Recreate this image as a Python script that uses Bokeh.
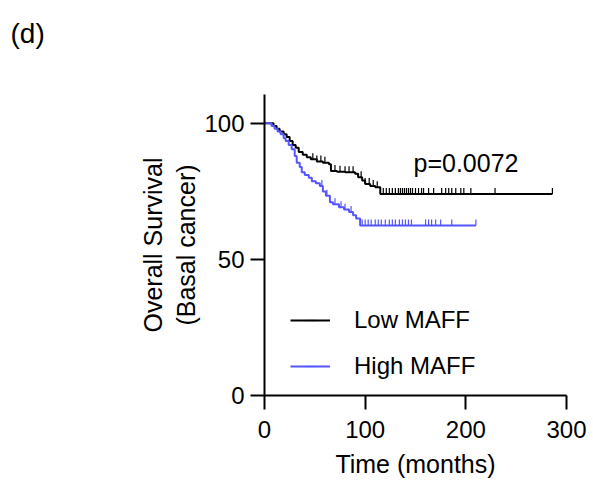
import numpy as np
from bokeh.plotting import figure
from bokeh.models import Range1d, Label, Legend, LegendItem, FixedTicker, Title
from bokeh.embed import file_html
from bokeh.resources import INLINE

# Kaplan-Meier step data (time in months, survival %)
low_t = [0, 9, 12, 15, 19, 22, 25, 28, 31, 34, 38, 42, 46, 52, 58, 64, 66, 72, 80, 90, 93, 97, 100, 105, 110, 115, 286]
low_s = [100, 99, 98, 97, 96, 95, 93.5, 92, 91, 89.5, 88.5, 87.5, 86.8, 86, 85.5, 85, 82.5, 82.2, 82, 81.5, 80.2, 79, 77.7, 77, 76.5, 74, 74]
high_t = [0, 7, 10, 13, 16, 19, 21, 24, 27, 30, 32, 35, 37, 40, 44, 47, 51, 55, 58, 61, 65, 68, 74, 79, 84, 88, 91, 95, 210]
high_s = [100, 99, 98, 97, 96, 94.5, 93.5, 92, 90.5, 88, 85.5, 84, 82, 81, 80, 78.7, 78, 77, 75, 73.4, 71, 70.3, 69.2, 68.3, 67.4, 66.2, 65, 62.5, 62.5]

# censoring times
low_cens = [48, 52, 56, 60, 70, 75, 80, 84, 88, 96, 100, 104, 108, 112, 118, 121, 124, 127, 130, 133, 135,
            137, 139, 141, 143, 145, 147, 150, 153, 156, 158, 163, 168, 176, 180, 183, 186, 190, 195, 198,
            205, 229, 286]
high_cens = [57, 62, 70, 76, 80, 86, 97, 100, 103, 106, 110, 113, 116, 120, 124, 127, 130, 134, 137, 140,
             143, 146, 160, 163, 166, 170, 175, 186, 210]

x_ticks = [0, 100, 200, 300]
y_ticks = [0, 50, 100]
series_names = ["Low MAFF", "High MAFF"]
p_text = "p=0.0072"
panel_text = "(d)"

BLACK = "#000000"
BLUE = "#5555ff"
FONT = "Liberation Sans"


def step_value(ts, ss, c):
    idx = np.searchsorted(np.asarray(ts), np.asarray(c), side="right") - 1
    return np.asarray(ss)[idx]


p = figure(width=588, height=480, output_backend="svg", toolbar_location=None,
           x_range=Range1d(0, 300), y_range=Range1d(0, 110.6),
           min_border_left=264, min_border_right=22, min_border_top=93, min_border_bottom=85)
p.outline_line_color = None
p.background_fill_color = "white"
p.border_fill_color = "white"
p.xgrid.visible = False
p.ygrid.visible = False

for ax in (p.xaxis[0], p.yaxis[0]):
    ax.axis_line_width = 2
    ax.axis_line_color = "black"
    ax.major_tick_line_width = 2
    ax.major_tick_line_color = "black"
    ax.major_tick_out = 14
    ax.major_tick_in = 0
    ax.minor_tick_line_color = None
    ax.major_label_text_font = FONT
    ax.major_label_text_font_size = "24px"
    ax.major_label_text_color = "black"
    ax.axis_label_text_font = FONT
    ax.axis_label_text_font_size = "25px"
    ax.axis_label_text_font_style = "normal"
    ax.axis_label_text_color = "black"

p.xaxis.ticker = FixedTicker(ticks=x_ticks)
p.yaxis.ticker = FixedTicker(ticks=y_ticks)
p.xaxis.major_label_standoff = 11
p.yaxis.major_label_standoff = 6
p.xaxis.axis_label = "Time (months)"
p.yaxis.axis_label = "Overall Survival\n(Basal cancer)"
p.xaxis.axis_label_standoff = 9
p.yaxis.axis_label_standoff = 1

r_low = p.step(low_t, low_s, mode="after", line_color=BLACK, line_width=2)
r_high = p.step(high_t, high_s, mode="after", line_color=BLUE, line_width=2)

tick_up = 1.1
c_low = p.scatter(low_cens, step_value(low_t, low_s, low_cens) + tick_up, marker="dash", angle=np.pi / 2,
                  size=6, line_color=BLACK, line_width=1.2)
c_high = p.scatter(high_cens, step_value(high_t, high_s, high_cens) + tick_up, marker="dash", angle=np.pi / 2,
                   size=6, line_color=BLUE, line_width=1.2)

legend = Legend(items=[LegendItem(label=series_names[0], renderers=[r_low, c_low]),
                       LegendItem(label=series_names[1], renderers=[r_high, c_high])],
                location=(26, 15), orientation="vertical")
legend.background_fill_alpha = 0
legend.border_line_color = None
legend.padding = 0
legend.margin = 0
legend.glyph_width = 40
legend.glyph_height = 28
legend.label_height = 28
legend.spacing = 18
legend.label_standoff = 24
legend.label_text_font = FONT
legend.label_text_font_size = "24px"
legend.label_text_color = "black"
p.add_layout(legend, "center")

p.add_layout(Label(x=148, y=85.5, text=p_text, text_font=FONT, text_font_size="25px",
                   text_color="black", text_baseline="alphabetic"))

p.add_layout(Title(text=panel_text + "\n ", align="left", offset=-254, standoff=30,
                   text_font=FONT, text_font_size="28px", text_font_style="normal",
                   text_color="black"), "above")

open("out.html", "w").write(file_html(p, INLINE))
